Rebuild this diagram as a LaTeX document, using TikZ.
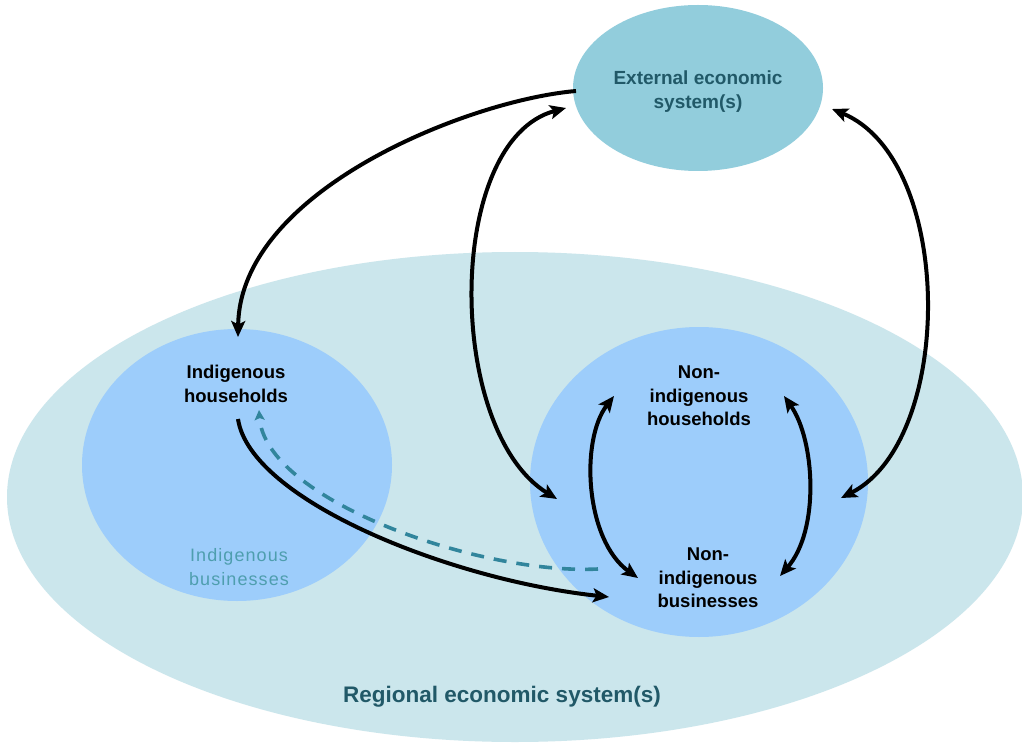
\documentclass[tikz,border=0pt]{standalone}
\usepackage{fontspec}
\setmainfont{Liberation Sans}
\newfontfamily\spacedsans[LetterSpace=6]{Liberation Sans}
\usetikzlibrary{shapes.geometric,arrows.meta}

\definecolor{regionfill}{HTML}{CBE6EC}
\definecolor{externalfill}{HTML}{92CDDC}
\definecolor{sectorfill}{HTML}{9DCDFB}
\definecolor{darkteal}{HTML}{215968}
\definecolor{softteal}{HTML}{4E9EAE}
\definecolor{dashteal}{HTML}{31859C}

\tikzset{
  blob/.style={ellipse, draw=none, inner sep=0pt},
  boldlabel/.style={align=center, font=\fontsize{18.5}{23.5}\selectfont\bfseries, text=black},
  tip/.style={Stealth[length=16pt,width=14pt,inset=3.5pt]},
  flow/.style={line width=4pt, draw=black, -{Stealth[length=16pt,width=14pt,inset=3.5pt]}},
  twoway/.style={line width=4pt, draw=black,
    {Stealth[length=16pt,width=14pt,inset=3.5pt]}-{Stealth[length=16pt,width=14pt,inset=3.5pt]}},
  backflow/.style={line width=3.6pt, draw=dashteal, dash pattern=on 13pt off 10pt,
    -{Stealth[length=10pt,width=10pt,inset=2pt]}},
}

\begin{document}
\begin{tikzpicture}[x=1pt,y=-1pt]
\useasboundingbox (0,0) rectangle (1022,743);
\clip (0,0) rectangle (1022,743);
\fill[white] (0,0) rectangle (1022,743);

% economic systems as filled ellipses
\node[blob, fill=regionfill, minimum width=1016pt, minimum height=490pt] (region) at (515,497) {};
\node[blob, fill=externalfill, minimum width=250pt, minimum height=166pt] (external) at (698,88) {};
\node[blob, fill=sectorfill, minimum width=310pt, minimum height=272pt] (indig) at (237,465) {};
\node[blob, fill=sectorfill, minimum width=338pt, minimum height=310pt] (nonindig) at (699,482) {};

% labels
\node[align=center, font=\fontsize{19}{24}\selectfont\bfseries, text=darkteal] (extlabel) at (698,92) {External economic\\system(s)};
\node[boldlabel] (ihh) at (236,384) {Indigenous\\households};
\node[align=center, font=\fontsize{18}{23.5}\selectfont\spacedsans, text=softteal] (ibus) at (239,567) {Indigenous\\businesses};
\node[boldlabel] (nhh) at (699,396) {Non-\\indigenous\\households};
\node[boldlabel] (nbus) at (708,578) {Non-\\indigenous\\businesses};
\node[font=\fontsize{22.5}{26}\selectfont\bfseries, text=darkteal] (reglabel) at (502,697) {Regional economic system(s)};

% connector end points
\coordinate (e1) at (576,91);
\coordinate (ihtop) at (238,337);
\coordinate (e2) at (566,108);
\coordinate (nl) at (557,499);
\coordinate (e3) at (832,109);
\coordinate (nr) at (841,498);
\coordinate (hl) at (614,396);
\coordinate (bl) at (638,578);
\coordinate (hr) at (784,396);
\coordinate (br) at (780,576);
\coordinate (ihbot) at (238,419);
\coordinate (nbin) at (609,597);
\coordinate (nbout) at (598,569);
\coordinate (ihin) at (259,410);

% flows between the systems
\draw[flow] (e1) .. controls (470,100) and (240,190) .. (ihtop);
\draw[twoway] (e2) .. controls (445,140) and (445,430) .. (nl);
\draw[twoway] (e3) .. controls (955,160) and (955,440) .. (nr);
\draw[twoway] (hl) .. controls (580,440) and (585,540) .. (bl);
\draw[twoway] (hr) .. controls (815,440) and (820,530) .. (br);
\draw[flow] (ihbot) .. controls (250,500) and (450,580) .. (nbin);
\draw[backflow] (nbout) .. controls (480,575) and (265,500) .. (ihin);
\end{tikzpicture}
\end{document}
